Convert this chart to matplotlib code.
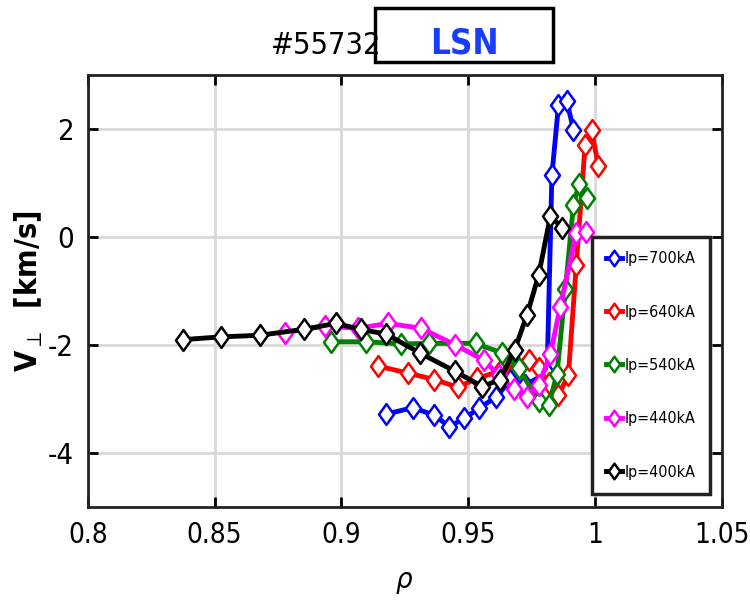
import matplotlib
matplotlib.use("Agg")
import matplotlib.pyplot as plt
import numpy as np
from matplotlib.path import Path
from matplotlib.patches import Rectangle

# data
rho_700 = [0.9178, 0.9282, 0.9367, 0.9426, 0.9485, 0.9544, 0.9612, 0.9667, 0.9725, 0.9812, 0.9831, 0.9857, 0.9890, 0.9916]
v_700 = [-3.28, -3.16, -3.30, -3.51, -3.36, -3.17, -2.96, -2.65, -2.74, -2.52, 1.15, 2.44, 2.51, 1.99]

rho_640 = [0.9145, 0.9263, 0.9367, 0.9459, 0.9537, 0.9625, 0.9740, 0.9779, 0.9818, 0.9857, 0.9896, 0.9927, 0.9962, 0.9988, 1.0014]
v_640 = [-2.39, -2.52, -2.64, -2.78, -2.62, -2.48, -2.28, -2.43, -2.71, -2.93, -2.56, -0.52, 1.70, 1.98, 1.31]

rho_540 = [0.8961, 0.9099, 0.9237, 0.9348, 0.9530, 0.9635, 0.9700, 0.9779, 0.9818, 0.9851, 0.9884, 0.9916, 0.9938, 0.9970]
v_540 = [-1.94, -1.94, -1.98, -1.97, -1.97, -2.15, -2.43, -3.04, -3.12, -2.54, -0.97, 0.59, 0.99, 0.72]

rho_440 = [0.8779, 0.8936, 0.9067, 0.9184, 0.9315, 0.9450, 0.9562, 0.9622, 0.9680, 0.9733, 0.9779, 0.9825, 0.9864, 0.9927, 0.9966]
v_440 = [-1.77, -1.65, -1.69, -1.60, -1.69, -2.00, -2.28, -2.56, -2.82, -2.97, -2.74, -2.17, -1.29, 0.07, 0.10]

rho_400 = [0.8376, 0.8524, 0.8678, 0.8852, 0.8979, 0.9076, 0.9178, 0.9311, 0.9450, 0.9557, 0.9626, 0.9684, 0.9733, 0.9779, 0.9825, 0.9871]
v_400 = [-1.90, -1.85, -1.82, -1.71, -1.60, -1.71, -1.80, -2.15, -2.49, -2.77, -2.64, -2.09, -1.44, -0.70, 0.39, 0.17]

series = [
    (rho_700, v_700, "blue", "Ip=700kA"),
    (rho_640, v_640, "red", "Ip=640kA"),
    (rho_540, v_540, "green", "Ip=540kA"),
    (rho_440, v_440, "magenta", "Ip=440kA"),
    (rho_400, v_400, "black", "Ip=400kA"),
]
xticks = [0.8, 0.85, 0.9, 0.95, 1.0, 1.05]
xticklabels = ["0.8", "0.85", "0.9", "0.95", "1", "1.05"]
yticks = [-4, -2, 0, 2]

plt.rcParams["font.family"] = "DejaVu Sans"
plt.rcParams["font.stretch"] = "condensed"

# matlab-like diamond, a bit taller than wide
diamond = Path([(0, 1), (0.72, 0), (0, -1), (-0.72, 0), (0, 1)],
               [Path.MOVETO, Path.LINETO, Path.LINETO, Path.LINETO, Path.CLOSEPOLY])

fig = plt.figure(figsize=(7.5, 6), dpi=100)
ax = fig.add_axes([0.117, 0.155, 0.845, 0.72])

for x, y, c, lab in series:
    ax.plot(x, y, color=c, lw=3.5, marker=diamond, ms=15, mfc="white",
            mec=c, mew=1.8, label=lab)

ax.set_xlim(0.8, 1.05)
ax.set_ylim(-5, 3)
ax.set_xticks(xticks)
ax.set_xticklabels(xticklabels, fontsize=20)
ax.set_yticks(yticks)
ax.set_yticklabels([str(t) for t in yticks], fontsize=21)
ax.grid(True, color="#d9d9d9", lw=2)
ax.set_axisbelow(True)
ax.tick_params(direction="in", length=7, width=2, top=True, right=True, pad=10)
for s in ax.spines.values():
    s.set_linewidth(2)
    s.set_color("#222222")

ax.set_xlabel(r"$\rho$", fontsize=21, labelpad=14)
ax.set_ylabel(r"$\mathbf{V}_{\perp}$  [km/s]", fontsize=22, fontweight="bold", labelpad=2)

leg = ax.legend(loc="lower right", bbox_to_anchor=(0.982, 0.03), prop={"size": 11.5},
                labelspacing=2.4, handlelength=1.0, handletextpad=0.15, borderpad=0.9,
                borderaxespad=0, fancybox=False, framealpha=1, markerscale=0.75)
leg.get_frame().set_edgecolor("#222222")
leg.get_frame().set_linewidth(2.5)

fig.text(0.435, 0.925, "#55732", fontsize=22, ha="center", va="center")
fig.add_artist(Rectangle((375 / 750, 1 - 62 / 600), 178 / 750, 54 / 600,
                         transform=fig.transFigure, fc="white", ec="black", lw=2.5))
fig.text(464 / 750, 1 - 44 / 600, "LSN", color="#1a3cff", fontsize=25, fontweight="bold",
         ha="center", va="center")

fig.savefig("out.png", dpi=100)
